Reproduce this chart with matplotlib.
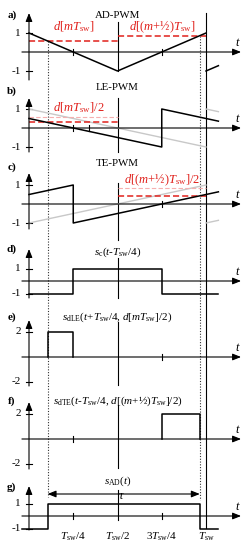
import numpy as np
import matplotlib.pyplot as plt

plt.rcParams['font.family'] = ['Liberation Serif', 'DejaVu Serif']
plt.rcParams['mathtext.fontset'] = 'custom'
plt.rcParams['mathtext.rm'] = 'Liberation Serif'
plt.rcParams['mathtext.it'] = 'Liberation Serif:italic'
plt.rcParams['mathtext.bf'] = 'Liberation Serif:bold'

# --- signal data, time in units of T_sw ---
d_m = 0.58      # d[mTsw]
d_mh = 0.86     # d[(m+1/2)Tsw]
t_on = 0.105
t_off = 0.965

ad_t = [0, 0.5, 1.0]
ad_v = [1, -1, 1]
ad_next_t = [1.0, 1.07]
ad_next_v = [-1, -0.72]

le_ref_t = [0, 1.0]
le_ref_v = [1, -1]
le_ref_next_t = [1.0, 1.07]
le_ref_next_v = [1, 0.86]
le_t = [0, 0.75, 0.75, 1.07]
le_v = [0.5, -1, 1, 0.36]

te_ref_t = [0, 1.0]
te_ref_v = [-1, 1]
te_ref_next_t = [1.0, 1.07]
te_ref_next_v = [-1, -0.86]
te_t = [0, 0.25, 0.25, 1.07]
te_v = [0.5, 1, -1, 0.64]

sc_t = [0, 0.25, 0.25, 0.75, 0.75, 1.07]
sc_v = [-1, -1, 1, 1, -1, -1]
dle_t = [t_on, t_on, 0.25, 0.25]
dle_v = [0, 2, 2, 0]
dte_t = [0.75, 0.75, t_off, t_off]
dte_v = [0, 2, 2, 0]
sad_t = [-0.04, t_on, t_on, t_off, t_off, 1.07]
sad_v = [-1, -1, 1, 1, -1, -1]

xtick_pos = [0.25, 0.5, 0.75, 1.0]
xtick_labels = [r'$T_{\rm sw}$/4', r'$T_{\rm sw}$/2', r'3$T_{\rm sw}$/4', r'$T_{\rm sw}$']

RED = '#e0201b'
PINK = '#f6b0b0'
GRAY = '#c8c8c8'

# --- layout (vertical positions in pixels, y grows downwards) ---
panels = {
    'a': dict(zero=52, s=19, top=13, bot=80, mid=(22, 71), amp=1, ticks=[0.25, 0.75], lab=15),
    'b': dict(zero=128, s=19, top=98, bot=152, mid=(98, 152), amp=1, ticks=[0.25, 0.34], lab=91),
    'c': dict(zero=204, s=19, top=173, bot=229, mid=(183, 240), amp=1, ticks=[0.75], lab=167),
    'd': dict(zero=281, s=12.5, top=249, bot=298, mid=(258, 298), amp=1, ticks=[], lab=249),
    'e': dict(zero=357, s=12.5, top=320, bot=386, mid=(322, 385), amp=2, ticks=[0.75], lab=317),
    'f': dict(zero=439, s=12.5, top=402, bot=469, mid=(405, 468), amp=2, ticks=[0.25], lab=401),
    'g': dict(zero=516, s=12.5, top=486, bot=530, mid=(490, 520), amp=1, ticks=[0.25, 0.75], lab=487),
}

fig = plt.figure(figsize=(2.5, 5.5), dpi=100)
ax = fig.add_axes([0, 0, 1, 1])
ax.set_xlim(-29 / 177, 221 / 177)
ax.set_ylim(550, 0)
ax.axis('off')


def Y(p, v):
    return p['zero'] - p['s'] * np.asarray(v, dtype=float)


def arrow(x0, y0, x1, y1, style='-|>'):
    ax.annotate('', xy=(x1, y1), xytext=(x0, y0),
                arrowprops=dict(arrowstyle=style + ',head_length=0.5,head_width=0.2',
                                lw=0.8, color='k', shrinkA=0, shrinkB=0))


for name, p in panels.items():
    # axes
    arrow(0, p['bot'], 0, p['top'])
    arrow(-0.04, p['zero'], 1.198, p['zero'])
    ax.text(1.18, p['zero'] - 9, '$t$', fontsize=9, ha='center', va='center')
    ax.text(-0.097, p['lab'], name + ')', fontsize=8, fontweight='bold', ha='center', va='center')
    # y ticks
    for v in (p['amp'], -p['amp']):
        ax.plot([-0.018, 0.018], [Y(p, v)] * 2, color='k', lw=0.8)
        ax.text(-0.045, Y(p, v), str(v), fontsize=8, ha='right', va='center')
    # t ticks
    for tk in p['ticks']:
        ax.plot([tk, tk], [p['zero'] - 3, p['zero'] + 3], color='k', lw=0.8)
    # Tsw/2 marker
    ax.plot([0.5, 0.5], p['mid'], color='k', lw=0.8)

a, b, c, d, e, f, g = (panels[k] for k in 'abcdefg')

# long Tsw line and dotted switching instants
ax.plot([1.0, 1.0], [13, 528], color='k', lw=0.8)
ax.plot([t_on, t_on], [Y(a, d_m), 497], color='#333333', lw=0.8, ls=(0, (1, 1.5)))
ax.plot([t_off, t_off], [Y(a, d_mh), 500], color='#333333', lw=0.8, ls=(0, (1, 1.5)))

# a) AD-PWM
ax.plot([0, 0.5], Y(a, [d_m, d_m]), color=RED, lw=1.1, ls=(0, (4, 2)))
ax.plot([0.5, 1.0], Y(a, [d_mh, d_mh]), color=RED, lw=1.1, ls=(0, (4, 2)))
ax.plot(ad_t, Y(a, ad_v), color='k', lw=1.1)
ax.plot(ad_next_t, Y(a, ad_next_v), color='k', lw=1.1)
ax.text(0.5, 15, 'AD-PWM', fontsize=7.8, ha='center', va='center')
ax.text(0.254, 27, r'$d$[$mT_{\rm sw}$]', color=RED, fontsize=9, ha='center', va='center')
ax.text(0.754, 27, r'$d$[($m$+½)$T_{\rm sw}$]', color=RED, fontsize=9, ha='center', va='center')

# b) LE-PWM
ax.plot(le_ref_t, Y(b, le_ref_v), color=GRAY, lw=1.0)
ax.plot(le_ref_next_t, Y(b, le_ref_next_v), color=GRAY, lw=1.0)
ax.plot([0, 0.5], Y(b, [d_m, d_m]), color=PINK, lw=0.8, ls=(0, (4, 2)))
ax.plot([0, 0.5], Y(b, [d_m / 2, d_m / 2]), color=RED, lw=1.1, ls=(0, (4, 2)))
ax.plot(le_t, Y(b, le_v), color='k', lw=1.1)
ax.text(0.5, 87, 'LE-PWM', fontsize=7.8, ha='center', va='center')
ax.text(0.28, 108, r'$d$[$mT_{\rm sw}$]/2', color=RED, fontsize=9, ha='center', va='center')

# c) TE-PWM
ax.plot(te_ref_t, Y(c, te_ref_v), color=GRAY, lw=1.0)
ax.plot(te_ref_next_t, Y(c, te_ref_next_v), color=GRAY, lw=1.0)
ax.plot([0.5, 1.0], Y(c, [d_mh, d_mh]), color=PINK, lw=0.8, ls=(0, (4, 2)))
ax.plot([0.5, 1.0], Y(c, [d_mh / 2, d_mh / 2]), color=RED, lw=1.1, ls=(0, (4, 2)))
ax.plot(te_t, Y(c, te_v), color='k', lw=1.1)
ax.text(0.5, 164, 'TE-PWM', fontsize=7.8, ha='center', va='center')
ax.text(0.75, 180, r'$d$[($m$+½)$T_{\rm sw}$]/2', color=RED, fontsize=9, ha='center', va='center')

# d) carrier sign
ax.plot(sc_t, Y(d, sc_v), color='k', lw=1.1)
ax.text(0.5, 252, r'$s_{\rm c}$($t$-$T_{\rm sw}$/4)', fontsize=8, ha='center', va='center')

# e) leading edge pulse
ax.plot(dle_t, Y(e, dle_v), color='k', lw=1.1)
ax.text(0.5, 317, r'$s_{\rm dLE}$($t$+$T_{\rm sw}$/4, $d$[$mT_{\rm sw}$]/2)',
        fontsize=8, ha='center', va='center')

# f) trailing edge pulse
ax.plot(dte_t, Y(f, dte_v), color='k', lw=1.1)
ax.text(0.5, 401, r'$s_{\rm dTE}$($t$-$T_{\rm sw}$/4, $d$[($m$+½)$T_{\rm sw}$]/2)',
        fontsize=8, ha='center', va='center')

# g) AD-PWM output
ax.plot(sad_t, Y(g, sad_v), color='k', lw=1.1)
ax.text(0.5, 481, r'$s_{\rm AD}$($t$)', fontsize=8, ha='center', va='center')
arrow(t_on, 494, t_off, 494, style='<|-|>')
ax.text(0.52, 496, r'$\tau$', fontsize=9, ha='center', va='center')
for xp, lbl in zip(xtick_pos, xtick_labels):
    ax.text(xp, 537, lbl, fontsize=8, ha='center', va='center')

fig.savefig('out.png', dpi=100)
